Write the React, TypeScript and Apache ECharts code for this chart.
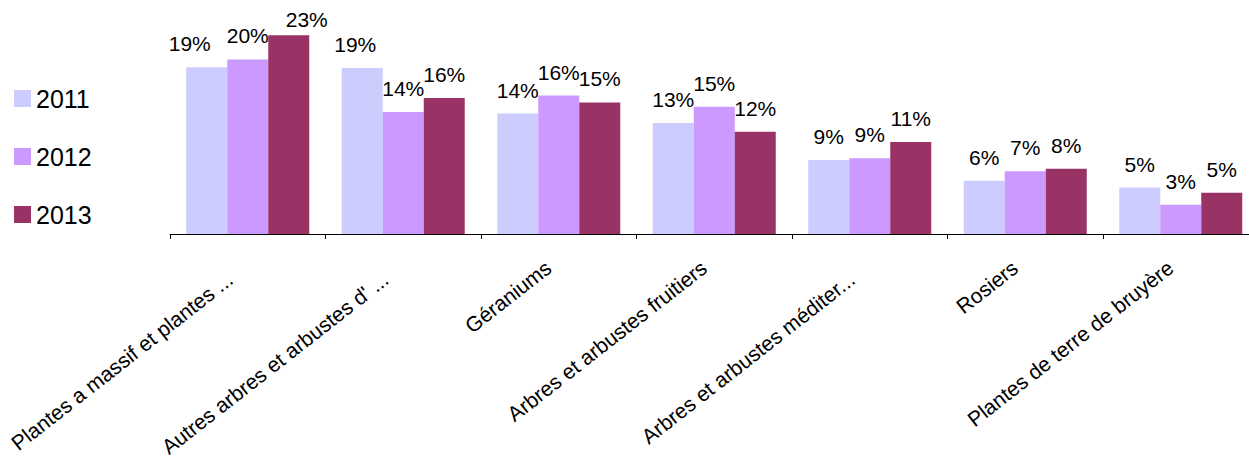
import React, { useEffect, useRef } from "react";
import * as echarts from "echarts";

const categories = [
  "Plantes a massif et plantes ...",
  "Autres arbres et arbustes d' ...",
  "Géraniums",
  "Arbres et arbustes fruitiers",
  "Arbres et arbustes méditer...",
  "Rosiers",
  "Plantes de terre de bruyère",
];

const seriesNames = ["2011", "2012", "2013"];

// values in percent
const values2011 = [19.4, 19.3, 14.0, 12.9, 8.6, 6.2, 5.4];
const values2012 = [20.3, 14.2, 16.1, 14.8, 8.8, 7.3, 3.4];
const values2013 = [23.1, 15.8, 15.3, 11.9, 10.7, 7.6, 4.8];

const colors = ["#CCCCFF", "#CC99FF", "#993366"];

// label nudges (series index, category index) -> offset
const labelNudges: Record<string, [number, number]> = {
  "0-0": [-17, 0],
  "2-0": [18, 8],
  "0-1": [-7, 0],
};

const FONT = "Liberation Sans, Arial, sans-serif";

export default function App() {
  const ref = useRef<HTMLDivElement>(null);
  useEffect(() => {
    if (!ref.current) return;
    const chart = echarts.init(ref.current, null, { renderer: "svg" });
    const allValues = [values2011, values2012, values2013];
    const series = allValues.map((vals, si) => ({
      name: seriesNames[si],
      type: "bar",
      barWidth: 41,
      barGap: "0%",
      itemStyle: { color: colors[si] },
      emphasis: { disabled: true },
      label: {
        show: true,
        position: "top",
        distance: 13,
        fontSize: 21,
        fontFamily: FONT,
        color: "#000",
        formatter: (p: any) => Math.round(p.value) + "%",
      },
      data: vals.map((v, ci) => {
        const n = labelNudges[si + "-" + ci];
        return n ? { value: v, label: { offset: n } } : v;
      }),
    }));
    chart.setOption({
      animation: false,
      legend: {
        data: seriesNames,
        orient: "vertical",
        left: 14,
        top: 86,
        padding: 0,
        icon: "rect",
        itemWidth: 17,
        itemHeight: 17,
        itemGap: 33,
        selectedMode: false,
        textStyle: { fontSize: 25, fontFamily: FONT, color: "#000", lineHeight: 24 },
      },
      grid: {
        left: 170,
        top: 19,
        width: 1088.5,
        height: 215,
        containLabel: false,
        outerBoundsMode: "none",
      },
      xAxis: {
        type: "category",
        data: categories,
        axisLine: { lineStyle: { color: "#000", width: 1 } },
        axisTick: { show: true, length: 5, lineStyle: { color: "#000" } },
        axisLabel: {
          interval: 0,
          rotate: 38,
          margin: 23,
          color: "#000",
          fontSize: 21,
          fontFamily: FONT,
          formatter: (v: string) => (v.endsWith("...") ? `{t|${v}}` : `{f|${v}}`),
          rich: {
            t: { fontSize: 21, fontFamily: FONT, color: "#000", padding: [9, 26, 0, 0] },
            f: { fontSize: 21, fontFamily: FONT, color: "#000", padding: [0, 13, 0, 0] },
          },
        },
      },
      yAxis: {
        type: "value",
        min: 0,
        max: 25,
        show: false,
        splitLine: { show: false },
      },
      series,
    });
    return () => chart.dispose();
  }, []);
  return (
    <div
      style={{
        position: "absolute",
        left: 0,
        top: 0,
        width: 1249,
        height: 457,
        overflow: "hidden",
      }}
    >
      <div ref={ref} style={{ width: 1270, height: 457 }} />
    </div>
  );
}
